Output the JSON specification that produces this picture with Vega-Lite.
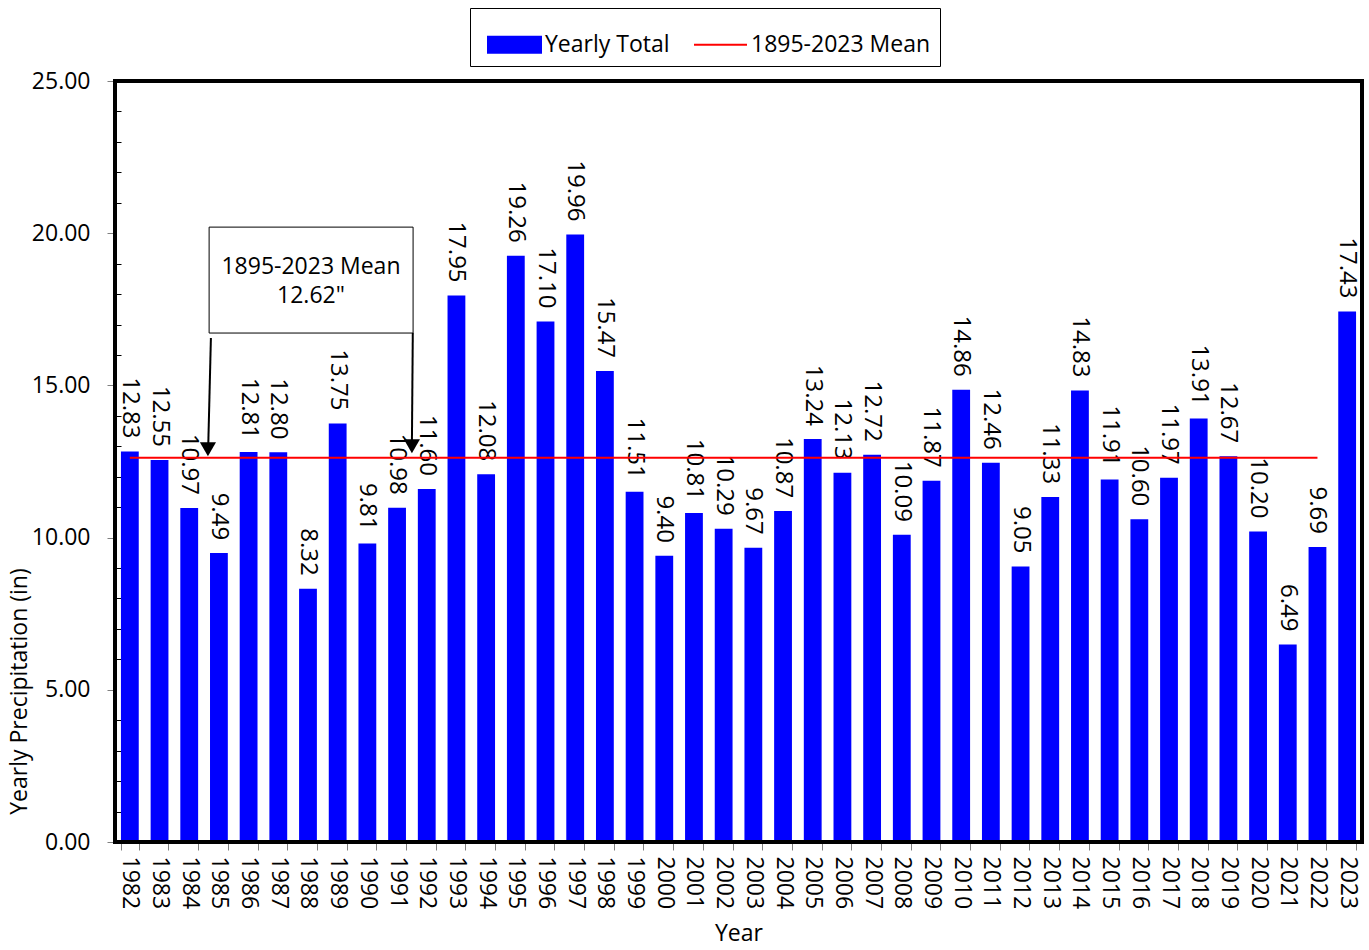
{
  "$schema": "https://vega.github.io/schema/vega-lite/v6.json",
  "width": 1247,
  "height": 761,
  "autosize": {"type": "none"},
  "padding": {"left": 115, "top": 81, "right": 7, "bottom": 108},
  "background": "white",
  "config": {
    "view": {"stroke": null},
    "font": "Open Sans",
    "axis": {"labelFont": "Open Sans", "titleFont": "Open Sans", "labelColor": "black", "titleColor": "black", "titleFontWeight": "normal", "labelFontSize": 23, "titleFontSize": 23, "domain": false, "grid": false}
  },
  "datasets": {
    "precip": [
      {"year": "1982", "total": 12.83, "mean": 12.62},
      {"year": "1983", "total": 12.55, "mean": 12.62},
      {"year": "1984", "total": 10.97, "mean": 12.62},
      {"year": "1985", "total": 9.49, "mean": 12.62},
      {"year": "1986", "total": 12.81, "mean": 12.62},
      {"year": "1987", "total": 12.80, "mean": 12.62},
      {"year": "1988", "total": 8.32, "mean": 12.62},
      {"year": "1989", "total": 13.75, "mean": 12.62},
      {"year": "1990", "total": 9.81, "mean": 12.62},
      {"year": "1991", "total": 10.98, "mean": 12.62},
      {"year": "1992", "total": 11.60, "mean": 12.62},
      {"year": "1993", "total": 17.95, "mean": 12.62},
      {"year": "1994", "total": 12.08, "mean": 12.62},
      {"year": "1995", "total": 19.26, "mean": 12.62},
      {"year": "1996", "total": 17.10, "mean": 12.62},
      {"year": "1997", "total": 19.96, "mean": 12.62},
      {"year": "1998", "total": 15.47, "mean": 12.62},
      {"year": "1999", "total": 11.51, "mean": 12.62},
      {"year": "2000", "total": 9.40, "mean": 12.62},
      {"year": "2001", "total": 10.81, "mean": 12.62},
      {"year": "2002", "total": 10.29, "mean": 12.62},
      {"year": "2003", "total": 9.67, "mean": 12.62},
      {"year": "2004", "total": 10.87, "mean": 12.62},
      {"year": "2005", "total": 13.24, "mean": 12.62},
      {"year": "2006", "total": 12.13, "mean": 12.62},
      {"year": "2007", "total": 12.72, "mean": 12.62},
      {"year": "2008", "total": 10.09, "mean": 12.62},
      {"year": "2009", "total": 11.87, "mean": 12.62},
      {"year": "2010", "total": 14.86, "mean": 12.62},
      {"year": "2011", "total": 12.46, "mean": 12.62},
      {"year": "2012", "total": 9.05, "mean": 12.62},
      {"year": "2013", "total": 11.33, "mean": 12.62},
      {"year": "2014", "total": 14.83, "mean": 12.62},
      {"year": "2015", "total": 11.91, "mean": 12.62},
      {"year": "2016", "total": 10.60, "mean": 12.62},
      {"year": "2017", "total": 11.97, "mean": 12.62},
      {"year": "2018", "total": 13.91, "mean": 12.62},
      {"year": "2019", "total": 12.67, "mean": 12.62},
      {"year": "2020", "total": 10.20, "mean": 12.62},
      {"year": "2021", "total": 6.49, "mean": 12.62},
      {"year": "2022", "total": 9.69, "mean": 12.62},
      {"year": "2023", "total": 17.43, "mean": null}
    ]
  },
  "layer": [
    {
      "data": {"name": "precip"},
      "encoding": {
        "x": {
          "field": "year", "type": "ordinal",
          "scale": {"paddingInner": 0.4, "paddingOuter": 0.2},
          "axis": {"title": "Year", "labelAngle": 90, "labelAlign": "left", "labelBaseline": "middle", "labelPadding": 6, "tickSize": 8, "tickColor": "#808080", "tickBand": "extent", "titlePadding": 14}
        },
        "y": {
          "field": "total", "type": "quantitative",
          "scale": {"domain": [0, 25], "nice": false},
          "axis": {
            "title": "Yearly Precipitation (in)",
            "tickCount": 25,
            "labelExpr": "datum.value % 5 === 0 ? format(datum.value, '.2f') : ''",
            "labelPadding": 17,
            "labelOverlap": false,
            "tickSize": {"condition": {"test": "datum.value % 5 === 0", "value": 8}, "value": -6},
            "tickColor": {"condition": {"test": "datum.value % 5 === 0", "value": "#808080"}, "value": "black"},
            "titleX": -96, "titleY": 610, "titleAlign": "center", "titleBaseline": "middle", "titleAngle": -90
          }
        }
      },
      "layer": [
        {
          "mark": {"type": "bar", "color": "#0000ff"},
          "encoding": {
            "color": {
              "datum": "Yearly Total", "type": "nominal",
              "scale": {"domain": ["Yearly Total", "1895-2023 Mean"], "range": ["#0000ff", "#ff0000"]},
              "legend": {
                "title": null, "orient": "none", "legendX": 355, "legendY": -73, "direction": "horizontal",
                "strokeColor": "black", "fillColor": "white", "padding": 9,
                "labelFont": "Open Sans", "labelFontSize": 23, "labelColor": "black", "labelLimit": 400,
                "columnPadding": 15, "labelOffset": 3, "symbolOffset": 8, "symbolSize": 2809, "symbolStrokeWidth": 2,
                "encode": {
                  "symbols": {
                    "update": {
                      "shape": {"signal": "datum.value === 'Yearly Total' ? 'M-1,-0.3H1V0.3H-1Z' : 'stroke'"},
                      "fill": {"signal": "datum.value === 'Yearly Total' ? '#0000ff' : 'transparent'"},
                      "stroke": {"signal": "datum.value === 'Yearly Total' ? 'transparent' : '#ff0000'"},
                      "opacity": {"value": 1}
                    }
                  }
                }
              }
            }
          }
        },
        {
          "mark": {"type": "text", "angle": 90, "align": "right", "baseline": "middle", "dx": -13, "fontSize": 24, "font": "Open Sans", "color": "black"},
          "encoding": {
            "text": {"field": "total", "type": "quantitative", "format": ".2f"}
          }
        },
        {
          "mark": {"type": "line", "color": "#ff0000", "strokeWidth": 2},
          "encoding": {
            "y": {"field": "mean", "type": "quantitative"},
            "color": {"datum": "1895-2023 Mean", "type": "nominal"}
          }
        }
      ]
    },
    {
      "data": {"values": [{}]},
      "encoding": {
        "x": {"datum": 0, "type": "quantitative", "scale": {"domain": [0, 42], "nice": false, "zero": false}, "axis": null},
        "y": {"datum": 0, "type": "quantitative", "scale": {"domain": [0, 25], "nice": false, "zero": false}, "axis": null}
      },
      "layer": [
        {
          "mark": {"type": "rect", "fill": "white", "stroke": "black", "strokeWidth": 1},
          "encoding": {
            "x": {"datum": 3.17, "type": "quantitative"},
            "x2": {"datum": 10.04},
            "y": {"datum": 16.72, "type": "quantitative"},
            "y2": {"datum": 20.2}
          }
        },
        {
          "mark": {"type": "text", "text": "1895-2023 Mean", "fontSize": 23, "font": "Open Sans", "color": "black", "align": "center", "baseline": "middle"},
          "encoding": {
            "x": {"datum": 6.6, "type": "quantitative"},
            "y": {"datum": 18.9, "type": "quantitative"}
          }
        },
        {
          "mark": {"type": "text", "text": "12.62\"", "fontSize": 23, "font": "Open Sans", "color": "black", "align": "center", "baseline": "middle"},
          "encoding": {
            "x": {"datum": 6.6, "type": "quantitative"},
            "y": {"datum": 17.95, "type": "quantitative"}
          }
        },
        {
          "mark": {"type": "rule", "color": "black", "strokeWidth": 2},
          "encoding": {
            "x": {"datum": 3.23, "type": "quantitative"},
            "x2": {"datum": 3.14},
            "y": {"datum": 16.56, "type": "quantitative"},
            "y2": {"datum": 13.0}
          }
        },
        {
          "mark": {"type": "rule", "color": "black", "strokeWidth": 2},
          "encoding": {
            "x": {"datum": 10.03, "type": "quantitative"},
            "x2": {"datum": 10.0},
            "y": {"datum": 16.72, "type": "quantitative"},
            "y2": {"datum": 13.1}
          }
        },
        {
          "mark": {"type": "point", "shape": "triangle-down", "filled": true, "color": "black", "opacity": 1, "size": 260},
          "encoding": {
            "x": {"datum": 3.13, "type": "quantitative"},
            "y": {"datum": 12.9, "type": "quantitative"}
          }
        },
        {
          "mark": {"type": "point", "shape": "triangle-down", "filled": true, "color": "black", "opacity": 1, "size": 260},
          "encoding": {
            "x": {"datum": 10.0, "type": "quantitative"},
            "y": {"datum": 13.0, "type": "quantitative"}
          }
        },
        {
          "mark": {"type": "rect", "fill": null, "fillOpacity": 0, "stroke": "black", "strokeWidth": 4},
          "encoding": {
            "x": {"datum": 0, "type": "quantitative"},
            "x2": {"datum": 42},
            "y": {"datum": 0, "type": "quantitative"},
            "y2": {"datum": 25}
          }
        }
      ]
    }
  ],
  "resolve": {"scale": {"x": "independent", "y": "independent"}}
}
